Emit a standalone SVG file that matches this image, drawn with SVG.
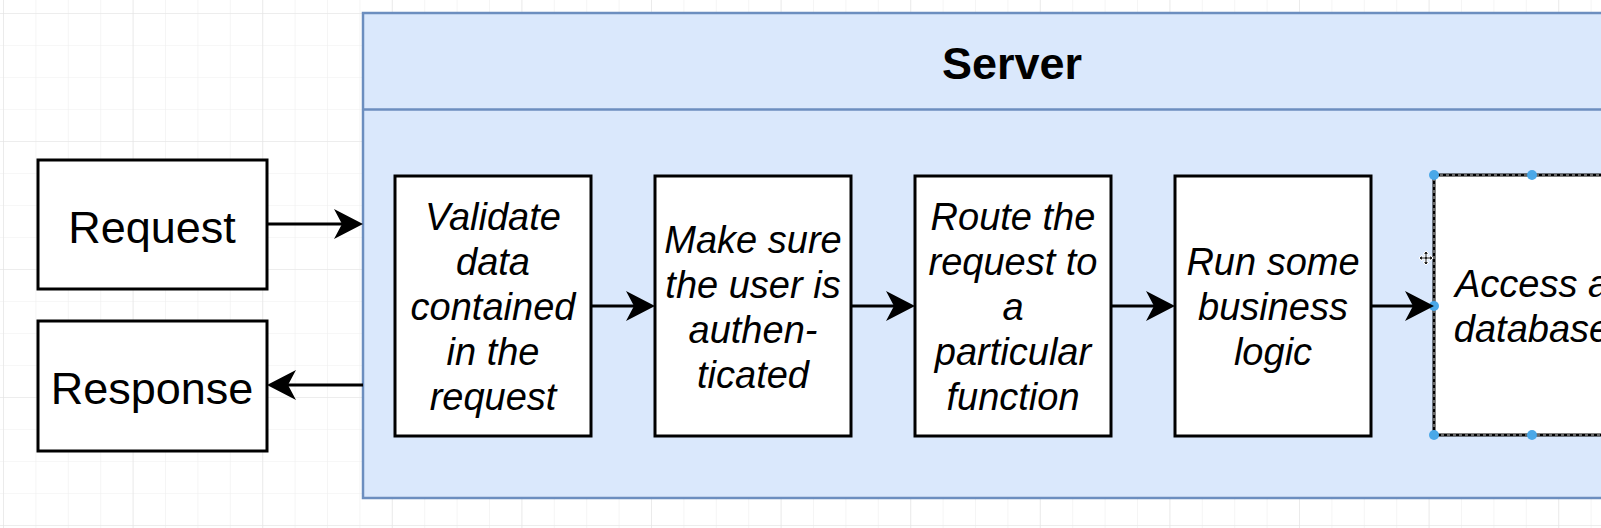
<svg xmlns="http://www.w3.org/2000/svg" width="1601" height="528" viewBox="0 0 1601 528">
<defs>
<pattern id="minor" x="3" y="13" width="32.4" height="32" patternUnits="userSpaceOnUse">
<path d="M0 0 H32.4 M0 0 V32" fill="none" stroke="#efefef" stroke-width="1.2"/>
</pattern>
<pattern id="major" x="3" y="13" width="129.6" height="128" patternUnits="userSpaceOnUse">
<path d="M0 0 H129.6 M0 0 V128" fill="none" stroke="#e4e4e4" stroke-width="1.2"/>
</pattern>
<marker id="arrow" markerUnits="userSpaceOnUse" viewBox="0 0 29 30" refX="8" refY="15" markerWidth="29" markerHeight="30" orient="auto">
<path d="M0 0 L29 15 L0 30 L8 15 Z" fill="#000"/>
</marker>
<style>
.box{fill:#fff;stroke:#000;stroke-width:3}
.lbl{font-family:"Liberation Sans",Arial,sans-serif;font-size:45px;fill:#000;text-anchor:middle}
.step{font-family:"Liberation Sans",Arial,sans-serif;font-size:38px;font-style:italic;fill:#000;text-anchor:middle}
.edge{fill:none;stroke:#000;stroke-width:3;marker-end:url(#arrow)}
.handle{fill:#4aa8e8}
</style>
</defs>
<rect width="1601" height="528" fill="#fff"/>
<rect width="1601" height="528" fill="url(#minor)"/>
<rect width="1601" height="528" fill="url(#major)"/>

<g id="server">
<rect x="363" y="13" width="1300" height="485" fill="#dae8fc" stroke="#6c8ebf" stroke-width="2.5"/>
<line x1="363" y1="109.5" x2="1663" y2="109.5" stroke="#6c8ebf" stroke-width="2.5"/>
<text x="1012" y="79" class="lbl" font-weight="bold">Server</text>
</g>

<g id="request">
<rect x="38" y="160" width="229" height="129" class="box"/>
<text x="152" y="243" class="lbl">Request</text>
</g>
<g id="response">
<rect x="38" y="321" width="229" height="130" class="box"/>
<text x="152" y="404" class="lbl">Response</text>
</g>

<g id="validate">
<rect x="395" y="176" width="196" height="260" class="box"/>
<text class="step"><tspan x="493" y="230">Validate</tspan><tspan x="493" y="275">data</tspan><tspan x="493" y="320">contained</tspan><tspan x="493" y="365">in the</tspan><tspan x="493" y="410">request</tspan></text>
</g>
<g id="authenticate">
<rect x="655" y="176" width="196" height="260" class="box"/>
<text class="step"><tspan x="753" y="253">Make sure</tspan><tspan x="753" y="298">the user is</tspan><tspan x="753" y="343">authen-</tspan><tspan x="753" y="388">ticated</tspan></text>
</g>
<g id="route">
<rect x="915" y="176" width="196" height="260" class="box"/>
<text class="step"><tspan x="1013" y="230">Route the</tspan><tspan x="1013" y="275">request to</tspan><tspan x="1013" y="320">a</tspan><tspan x="1013" y="365">particular</tspan><tspan x="1013" y="410">function</tspan></text>
</g>
<g id="business">
<rect x="1175" y="176" width="196" height="260" class="box"/>
<text class="step"><tspan x="1273" y="275">Run some</tspan><tspan x="1273" y="320">business</tspan><tspan x="1273" y="365">logic</tspan></text>
</g>
<g id="database">
<rect x="1434" y="175" width="196" height="260" class="box"/>
<rect x="1434" y="175" width="196" height="260" fill="none" stroke="#ccc" stroke-width="1" stroke-dasharray="3 3"/>
<text class="step"><tspan x="1532" y="297">Access a</tspan><tspan x="1532" y="342">database</tspan></text>
<circle cx="1434" cy="175" r="5" class="handle"/>
<circle cx="1532" cy="175" r="5" class="handle"/>
<circle cx="1434" cy="306" r="5" class="handle"/>
<circle cx="1434" cy="435" r="5" class="handle"/>
<circle cx="1532" cy="435" r="5" class="handle"/>
<g id="move-cursor" transform="translate(1426 258)">
<path d="M0 -7 L3 -4 H1 V-1 H4 V-3 L7 0 L4 3 V1 H1 V4 H3 L0 7 L-3 4 H-1 V1 H-4 V3 L-7 0 L-4 -3 V-1 H-1 V-4 H-3 Z" fill="#222" stroke="#fff" stroke-width="1"/>
</g>
</g>

<g id="connectors">
<line x1="267" y1="224" x2="342" y2="224" class="edge"/>
<line x1="363" y1="385" x2="288" y2="385" class="edge"/>
<line x1="591" y1="306" x2="634" y2="306" class="edge"/>
<line x1="851" y1="306" x2="894" y2="306" class="edge"/>
<line x1="1111" y1="306" x2="1154" y2="306" class="edge"/>
<line x1="1371" y1="306" x2="1413" y2="306" class="edge"/>
</g>
</svg>
